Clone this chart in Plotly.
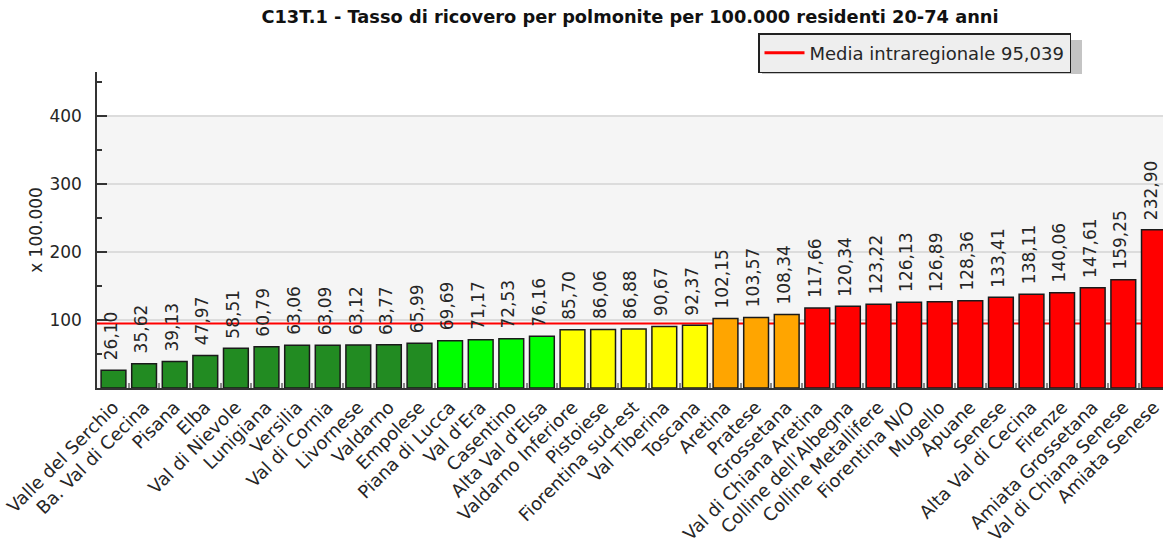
import plotly.graph_objects as go

categories = ["Valle del Serchio", "Ba. Val di Cecina", "Pisana", "Elba", "Val di Nievole",
              "Lunigiana", "Versilia", "Val di Cornia", "Livornese", "Valdarno", "Empolese",
              "Piana di Lucca", "Val d'Era", "Casentino", "Alta Val d'Elsa", "Valdarno Inferiore",
              "Pistoiese", "Fiorentina sud-est", "Val Tiberina", "Toscana", "Aretina", "Pratese",
              "Grossetana", "Val di Chiana Aretina", "Colline dell'Albegna", "Colline Metallifere",
              "Fiorentina N/O", "Mugello", "Apuane", "Senese", "Alta Val di Cecina", "Firenze",
              "Amiata Grossetana", "Val di Chiana Senese", "Amiata Senese"]
values = [26.10, 35.62, 39.13, 47.97, 58.51, 60.79, 63.06, 63.09, 63.12, 63.77, 65.99,
          69.69, 71.17, 72.53, 76.16, 85.70, 86.06, 86.88, 90.67, 92.37, 102.15, 103.57,
          108.34, 117.66, 120.34, 123.22, 126.13, 126.89, 128.36, 133.41, 138.11, 140.06,
          147.61, 159.25, 232.90]
classes = ["dg"] * 11 + ["lg"] * 4 + ["ye"] * 5 + ["or"] * 3 + ["re"] * 12
class_colors = {"dg": "#228B22", "lg": "#00FF00", "ye": "#FFFF00", "or": "#FFA500", "re": "#FF0000"}
mean_value = 95.039
mean_label = "Media intraregionale 95,039"
y_ticks = [100, 200, 300, 400]

FONT = "DejaVu Sans"
TXT = "#262626"

W, H = 1163, 548
L, R, T, B = 97, 0, 72, 160
PW, PH = W - L - R, H - T - B

x = list(range(len(categories)))
boundaries = [i + 0.5 for i in x[:-1]]
labels = [f"{v:.2f}".replace(".", ",") for v in values]

fig = go.Figure()
fig.add_trace(go.Bar(
    x=x, y=values,
    marker=dict(color=[class_colors[c] for c in classes], line=dict(color="#1a1a1a", width=1.5)),
    showlegend=False, hoverinfo="skip",
))
# legend entry for the mean line
fig.add_trace(go.Scatter(
    x=[None], y=[None], mode="lines", name=mean_label,
    line=dict(color="#FF0000", width=3), showlegend=True,
))

# value labels above the bars
for xi, v, lab in zip(x, values, labels):
    fig.add_annotation(x=xi, y=v, xref="x", yref="y", text=lab, showarrow=False,
                       textangle=-90, xanchor="center", yanchor="bottom",
                       yshift=9, xshift=-3, borderpad=0,
                       font=dict(family=FONT, size=17, color=TXT))

# grey band background 0..400
fig.add_shape(type="rect", xref="paper", yref="y", x0=0, x1=1, y0=0, y1=max(y_ticks),
              fillcolor="#f5f5f5", line=dict(width=0), layer="below")
# mean line
fig.add_shape(type="line", xref="paper", yref="y", x0=0, x1=1, y0=mean_value, y1=mean_value,
              line=dict(color="#FF0000", width=2), layer="below")

def px2paper_x(px):
    return (px - L) / PW

def px2paper_y(py):
    return 1 - (py - T) / PH

# legend shadow
fig.add_shape(type="rect", xref="paper", yref="paper",
              x0=px2paper_x(762), x1=px2paper_x(1082),
              y0=px2paper_y(74), y1=px2paper_y(40),
              fillcolor="#c4c4c4", line=dict(width=0), layer="below")

fig.update_layout(
    width=W, height=H,
    margin=dict(l=L, r=R, t=T, b=B, autoexpand=False),
    paper_bgcolor="white", plot_bgcolor="white",
    font=dict(family=FONT, size=17, color=TXT),
    bargap=0.19,
    title=dict(text="<b>C13T.1 - Tasso di ricovero per polmonite per 100.000 residenti 20-74 anni</b>",
               x=0.5, xanchor="center", xref="paper",
               y=1 - 17 / H, yanchor="middle", yref="container",
               font=dict(family=FONT, size=17.8, color="#111")),
    legend=dict(xref="container", yref="container", x=758 / W, xanchor="left",
                y=1 - 33 / H, yanchor="top", bgcolor="#eeeeee", bordercolor="#222",
                borderwidth=1.5, font=dict(family=FONT, size=18, color=TXT),
                tracegroupgap=0, itemwidth=40, entrywidth=270, entrywidthmode="pixels"),
    xaxis=dict(
        range=[-0.539, 34.297], tickmode="array", tickvals=x, ticktext=categories,
        tickangle=-45, showgrid=False, zeroline=False, ticklabeloverflow="allow",
        showline=True, linecolor="#333", linewidth=1.5, ticks="",
        minor=dict(tickmode="array", tickvals=boundaries, ticks="inside", ticklen=5,
                   tickcolor="#8a8a8a", tickwidth=2, showgrid=False),
        tickfont=dict(family=FONT, size=18, color=TXT),
    ),
    yaxis=dict(
        range=[0, 465], tickmode="array", tickvals=y_ticks,
        showgrid=True, gridcolor="#dcdcdc", gridwidth=1.5, zeroline=False,
        showline=True, linecolor="#333", linewidth=1.5,
        ticks="inside", ticklen=10, tickcolor="#333", tickwidth=1.5,
        minor=dict(dtick=50, ticks="inside", ticklen=5, tickcolor="#333", showgrid=False),
        ticklabelstandoff=10,
        tickfont=dict(family=FONT, size=17, color=TXT),
        title=dict(text="x 100.000", standoff=2, font=dict(family=FONT, size=17, color=TXT)),
    ),
)

fig.write_html("out.html", config={"displayModeBar": False},
               post_script="document.body.style.margin='0';")
